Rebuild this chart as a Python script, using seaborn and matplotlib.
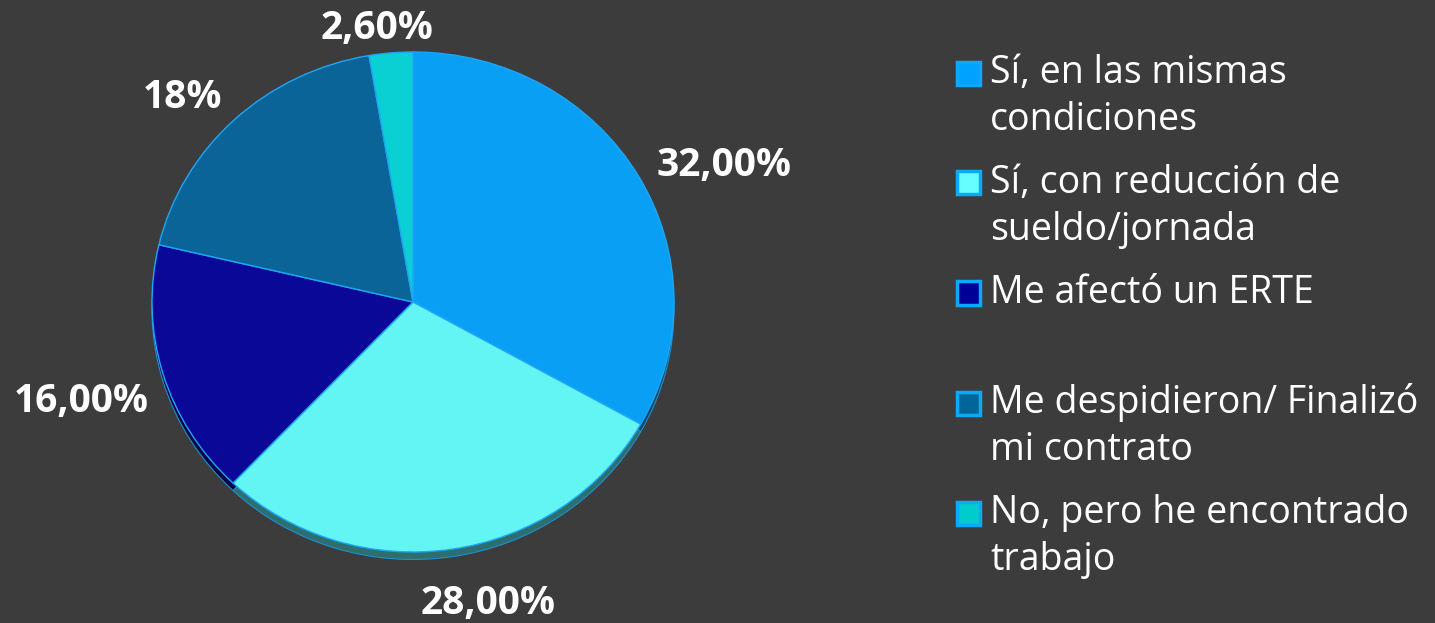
import numpy as np
import matplotlib
matplotlib.use("Agg")
import matplotlib.pyplot as plt
import seaborn as sns
from matplotlib.patches import Rectangle

categories = [
    "Sí, en las mismas\ncondiciones",
    "Sí, con reducción de\nsueldo/jornada",
    "Me afectó un ERTE\n ",
    "Me despidieron/ Finalizó\nmi contrato",
    "No, pero he encontrado\ntrabajo",
]
values = [32.0, 28.0, 16.0, 18.0, 2.6]
value_labels = ["32,00%", "28,00%", "16,00%", "18%", "2,60%"]
slice_colors = ["#089FF4", "#63F4F4", "#0A0896", "#0A6497", "#0ACFD3"]
legend_colors = ["#00A2FF", "#66FFFF", "#000099", "#006699", "#00CCCC"]

BG = "#3C3C3C"
sns.set_theme(style="dark", rc={"figure.facecolor": BG, "axes.facecolor": BG})
plt.rcParams["font.family"] = ["Open Sans", "DejaVu Sans"]

W, H = 1435, 623
fig = plt.figure(figsize=(W / 100, H / 100), dpi=100)
fig.patch.set_facecolor(BG)

cx, cy = 413, 302
rx, ry = 261, 250
span = 1.4
ax = fig.add_axes([(cx - span * rx) / W, ((H - cy) - span * ry) / H,
                   2 * span * rx / W, 2 * span * ry / H])

# shadow / depth layer
shadow_cols = [tuple(np.array(matplotlib.colors.to_rgb(c)) * 0.45) for c in slice_colors]
ax.pie(values, colors=shadow_cols, startangle=90, counterclock=False,
       center=(0, -0.03), radius=1.0, frame=True,
       wedgeprops=dict(edgecolor="#1E8FD0", linewidth=0.8))

wedges, _ = ax.pie(values, colors=slice_colors, startangle=90, counterclock=False,
                   radius=1.0, frame=True,
                   wedgeprops=dict(edgecolor="#1EA6F5", linewidth=1.0))
ax.set_aspect("auto")
ax.set_xlim(-span, span)
ax.set_ylim(-span, span)
ax.axis("off")

dists = [1.08, 1.22, 1.09, 1.10, 1.11]
has = ["left", "center", "right", "right", "center"]
nudges_px = [(0, 0), (28, 0), (8, -22), (6, 4), (-12, -3)]
for w, lab, d, ha, (nx, ny) in zip(wedges, value_labels, dists, has, nudges_px):
    ang = np.deg2rad((w.theta1 + w.theta2) / 2)
    ax.annotate(lab, xy=(d * np.cos(ang), d * np.sin(ang)),
                xytext=(nx * 0.72, ny * 0.72), textcoords="offset points",
                ha=ha, va="center", color="white", fontsize=28,
                fontweight="bold", annotation_clip=False)

# legend
line_h = 47
step = 110
y0 = 73
for i, (lab, col) in enumerate(zip(categories, legend_colors)):
    yc = y0 + step * i
    fig.patches.append(Rectangle(((957) / W, (H - yc - 11.5) / H), 23 / W, 23 / H,
                                 transform=fig.transFigure, facecolor=col,
                                 edgecolor="#0AAAF8", linewidth=2.5))
    for j, ln in enumerate(lab.split("\n")):
        fig.text(990 / W, (H - (yc + j * line_h)) / H, ln, ha="left", va="center",
                 color="white", fontsize=27)

fig.savefig("out.png", dpi=100, facecolor=BG)
